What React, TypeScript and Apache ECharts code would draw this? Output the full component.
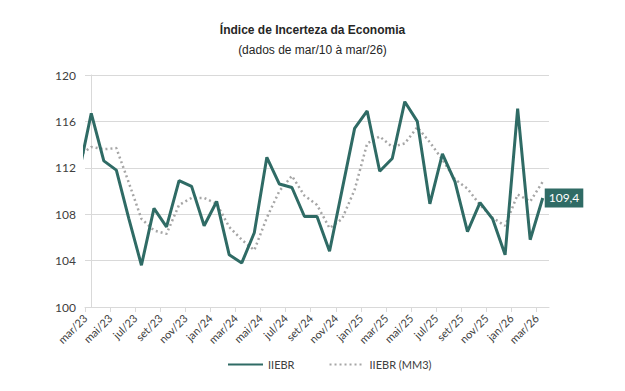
import React, { useEffect, useRef } from "react";
import * as echarts from "echarts";

// Month labels (mar/23 .. mar/26), one per monthly point
const months = [
  "mar/23", "abr/23", "mai/23", "jun/23", "jul/23", "ago/23", "set/23", "out/23", "nov/23", "dez/23",
  "jan/24", "fev/24", "mar/24", "abr/24", "mai/24", "jun/24", "jul/24", "ago/24", "set/24", "out/24",
  "nov/24", "dez/24", "jan/25", "fev/25", "mar/25", "abr/25", "mai/25", "jun/25", "jul/25", "ago/25",
  "set/25", "out/25", "nov/25", "dez/25", "jan/26", "fev/26", "mar/26",
];

// Value for fev/23 (just before the visible window, line enters from the left edge)
const iiebrPrev = 111.5;
const mm3Prev = 113.0;

const iiebr = [
  116.7, 112.6, 111.8, 107.6, 103.6, 108.5, 106.9, 110.9, 110.4, 107.0,
  109.1, 104.5, 103.8, 106.4, 112.9, 110.6, 110.3, 107.8, 107.8, 104.8,
  110.1, 115.4, 116.9, 111.7, 112.8, 117.7, 116.0, 108.9, 113.2, 110.8,
  106.5, 109.0, 107.6, 104.5, 117.1, 105.8, 109.4,
];

const iiebrMM3 = [
  113.8, 113.6, 113.7, 110.7, 107.6, 106.6, 106.3, 108.8, 109.4, 109.4,
  108.9, 106.9, 105.8, 104.9, 107.7, 110.0, 111.3, 109.6, 108.8, 106.8,
  107.6, 110.1, 114.1, 114.7, 113.8, 114.1, 115.5, 114.2, 112.7, 111.0,
  110.2, 108.8, 107.7, 107.0, 109.7, 109.1, 110.8,
];

const yTicks = { min: 100, max: 120, interval: 4 };

const teal = "#2f6b65";
const gray = "#a6a6a6";
const labelFont = "Lato, 'Liberation Sans', Arial, sans-serif";
const titleFont = "'Liberation Sans', Arial, sans-serif";

export default function App() {
  const ref = useRef<HTMLDivElement>(null);

  useEffect(() => {
    if (!ref.current) return;
    const chart = echarts.init(ref.current, undefined, { renderer: "svg" });

    const solidData = [[-1, iiebrPrev], ...iiebr.map((v, i) => [i, v])];
    const dotData = [[-1, mm3Prev], ...iiebrMM3.map((v, i) => [i, v])];

    chart.setOption({
      animation: false,
      backgroundColor: "#ffffff",
      title: {
        text: "Índice de Incerteza da Economia",
        subtext: "(dados de mar/10 à mar/26)",
        left: "center",
        top: 19,
        itemGap: 8,
        textStyle: { fontFamily: titleFont, fontSize: 12, fontWeight: "bold", color: "#262626" },
        subtextStyle: { fontFamily: titleFont, fontSize: 12, color: "#262626" },
      },
      legend: {
        top: 354,
        left: 222,
        itemWidth: 35,
        itemHeight: 14,
        itemGap: 34,
        itemStyle: { opacity: 0 },
        textStyle: { fontFamily: labelFont, fontSize: 11, color: "#404040" },
        data: ["IIEBR", "IIEBR (MM3)"],
      },
      grid: { left: 85, right: 76, top: 75, bottom: 84, containLabel: false },
      xAxis: {
        type: "value",
        min: -0.5,
        max: 36.5,
        interval: 2,
        splitLine: { show: false },
        axisLine: { show: true, lineStyle: { color: "#d9d9d9", width: 1 } },
        axisTick: { show: true, length: 5, lineStyle: { color: "#d9d9d9" } },
        axisLabel: {
          rotate: 45,
          margin: 9,
          fontFamily: labelFont,
          fontSize: 11,
          color: "#404040",
          showMaxLabel: false,
          formatter: (v: number) => {
            const idx = Math.round(v + 0.5);
            return idx >= 0 && idx < months.length && idx % 2 === 0 ? months[idx] : "";
          },
        },
      },
      yAxis: {
        type: "value",
        min: yTicks.min,
        max: yTicks.max,
        interval: yTicks.interval,
        axisLine: { show: true, lineStyle: { color: "#d9d9d9" } },
        axisTick: { show: false },
        splitLine: { show: true, lineStyle: { color: "#d9d9d9", width: 1 } },
        axisLabel: { fontFamily: labelFont, fontSize: 12, color: "#404040", margin: 9 },
      },
      series: [
        {
          name: "IIEBR",
          type: "line",
          data: solidData,
          symbol: "none",
          clip: true,
          lineStyle: { color: teal, width: 3 },
          itemStyle: { color: teal },
          emphasis: { disabled: true },
          z: 3,
          endLabel: {
            show: true,
            formatter: (p: any) => String(p.value[1]).replace(".", ","),
            backgroundColor: teal,
            color: "#ffffff",
            fontFamily: labelFont,
            fontSize: 12,
            padding: [4, 4, 3, 4],
            distance: 2,
          },
        },
        {
          name: "IIEBR (MM3)",
          type: "line",
          data: dotData,
          symbol: "none",
          clip: true,
          lineStyle: { color: gray, width: 2.5, type: [2, 3] },
          itemStyle: { color: gray },
          emphasis: { disabled: true },
          z: 2,
        },
      ],
    });

    return () => chart.dispose();
  }, []);

  return <div ref={ref} style={{ width: 625, height: 391, position: "absolute", left: 0, top: 0 }} />;
}
